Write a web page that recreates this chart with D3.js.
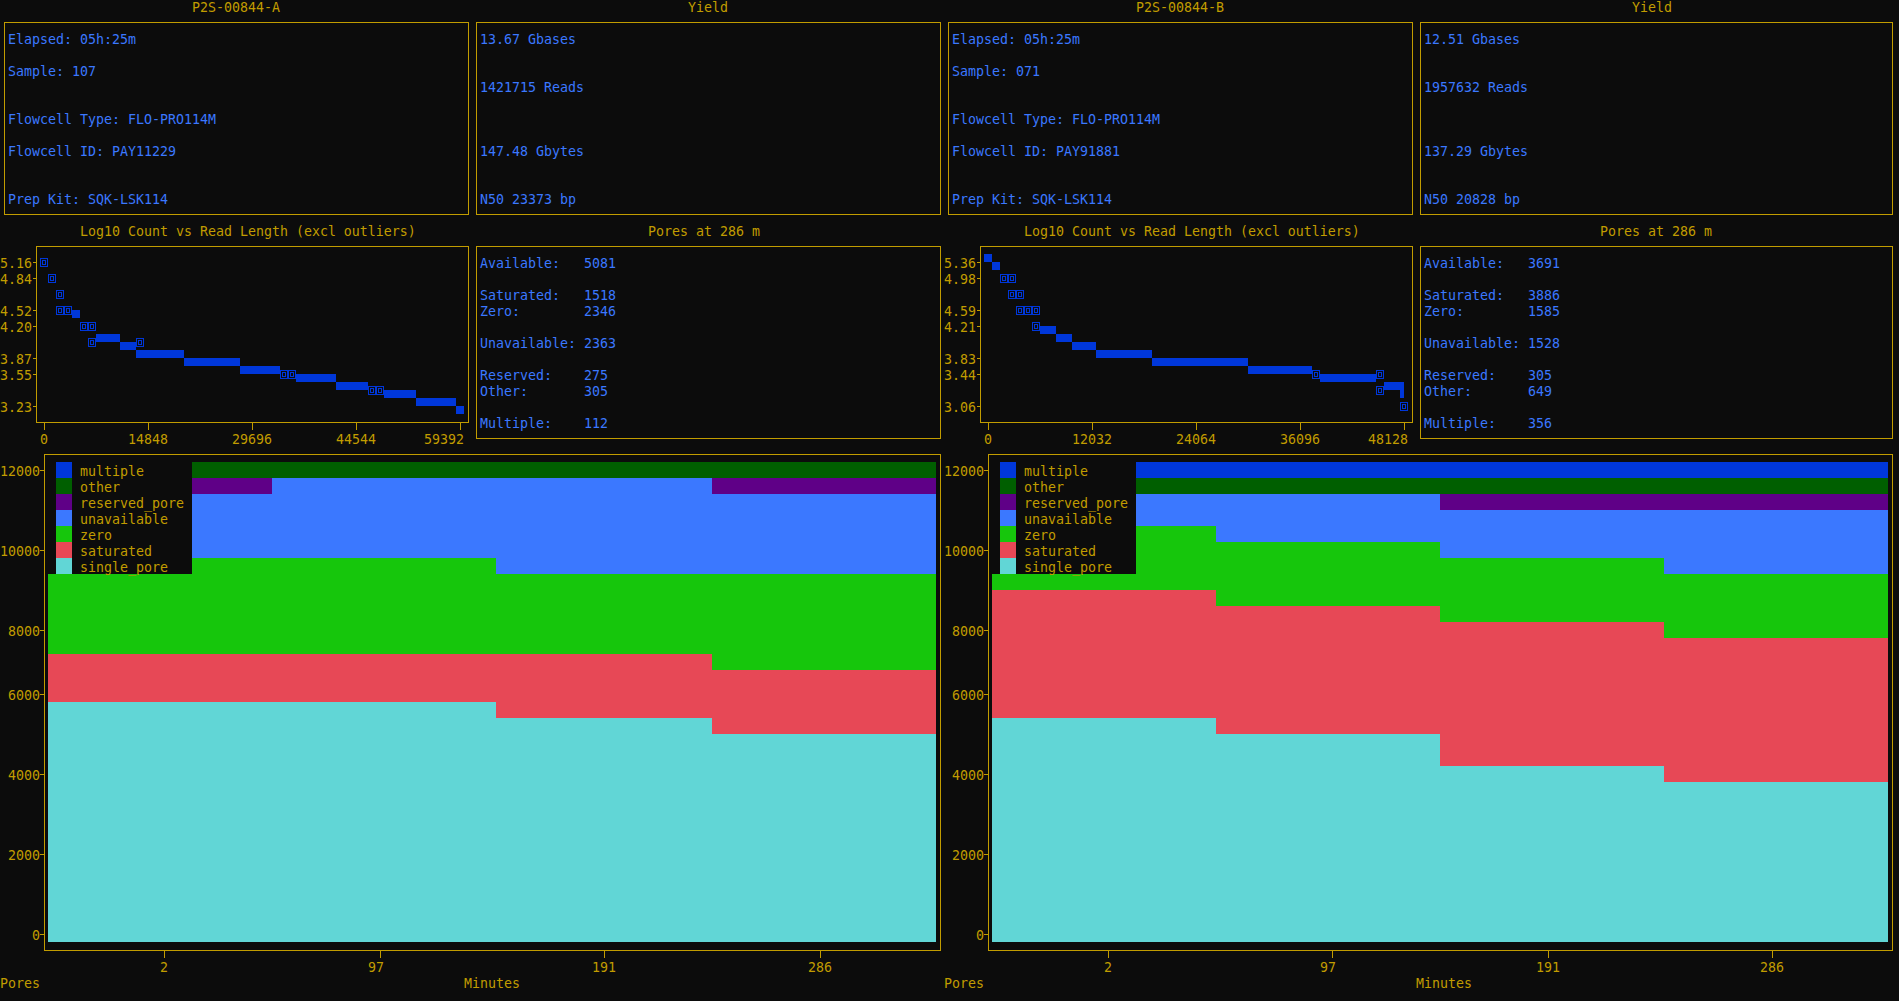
<!DOCTYPE html>
<html><head><meta charset="utf-8">
<script src="https://cdn.jsdelivr.net/npm/d3@7"></script>
<style>
html,body{margin:0;padding:0;background:#0c0c0c;overflow:hidden}
svg{display:block}
text{font-family:"DejaVu Sans Mono","Liberation Mono",monospace;font-size:13.29px;white-space:pre}
</style></head><body><svg id="c" width="1899" height="1001"></svg>
<script>
// ---------------- DATA ----------------
const runNames = ["P2S-00844-A", "P2S-00844-B"];
const infoA = ["Elapsed: 05h:25m", "Sample: 107", "Flowcell Type: FLO-PRO114M", "Flowcell ID: PAY11229", "Prep Kit: SQK-LSK114"];
const infoB = ["Elapsed: 05h:25m", "Sample: 071", "Flowcell Type: FLO-PRO114M", "Flowcell ID: PAY91881", "Prep Kit: SQK-LSK114"];
const yieldA = ["13.67 Gbases", "1421715 Reads", "147.48 Gbytes", "N50 23373 bp"];
const yieldB = ["12.51 Gbases", "1957632 Reads", "137.29 Gbytes", "N50 20828 bp"];
const poreLabels = ["Available:", "Saturated:", "Zero:", "Unavailable:", "Reserved:", "Other:", "Multiple:"];
const poresA = [5081, 1518, 2346, 2363, 275, 305, 112];
const poresB = [3691, 3886, 1585, 1528, 305, 649, 356];
const poresMinute = 286;

// histogram: [readLengthStart, readLengthEnd, log10 count]
const histABins = [[4000,5140,4.463],[7420,10850,4.141],[10850,13140,4.034],[13140,19990,3.927],[19990,27980,3.820],[27980,33690,3.713],[35980,41690,3.605],[41690,46260,3.498],[48540,53110,3.391],[53110,58820,3.284],[58820,59960,3.176]];
// points drawn with glyphs the terminal font lacks: [readLength, log10 count]
const histAGlyphs = [[0,5.16],[1140,4.946],[2280,4.731],[2280,4.517],[3430,4.517],[5710,4.302],[6850,4.302],[6850,4.088],[13710,4.088],[34260,3.659],[35410,3.659],[46830,3.444],[47970,3.444]];
const histAHalf = [];
const histAXTicks = [0, 14848, 29696, 44544, 59392];
const histAYTicks = ["5.16", "4.84", "4.52", "4.20", "3.87", "3.55", "3.23"];

const histBBins = [[0,460,5.424],[460,1390,5.296],[6020,7870,4.274],[7870,9720,4.146],[9720,12490,4.018],[12490,18970,3.891],[18970,30080,3.763],[30080,37480,3.635],[38410,44890,3.507],[45810,47660,3.379]];
const histBGlyphs = [[1850,5.104],[2780,5.104],[2780,4.849],[3700,4.849],[3700,4.593],[4630,4.593],[5550,4.593],[5550,4.338],[37950,3.571],[45350,3.571],[45350,3.316],[48128,3.06]];
const histBHalf = [[48128,3.316]];
const histBXTicks = [0, 12032, 24064, 36096, 48128];
const histBYTicks = ["5.36", "4.98", "4.59", "4.21", "3.83", "3.44", "3.06"];

// pore states over time
const minutes = [2, 97, 191, 286];
const layerKeys = ["single_pore", "saturated", "zero", "unavailable", "reserved_pore", "other", "multiple"];
const singlePoreA = [5790, 5700, 5380, 5081];
const saturatedA  = [1240, 1340, 1650, 1518];
const zeroA       = [2490, 2470, 2080, 2346];
const unavailableA= [1650, 2000, 2420, 2363];
const reservedA   = [410, 150, 180, 275];
const otherA      = [310, 240, 190, 305];
const multipleA   = [110, 100, 100, 112];
const singlePoreB = [5380, 4970, 4140, 3691];
const saturatedB  = [3300, 3300, 3720, 3886];
const zeroB       = [1660, 1660, 1660, 1585];
const unavailableB= [780, 1180, 1340, 1528];
const reservedB   = [120, 150, 300, 305];
const otherB      = [350, 330, 430, 649];
const multipleB   = [410, 410, 410, 356];
const poreYTicks = [0, 2000, 4000, 6000, 8000, 10000, 12000];

// ---------------- STYLE / LAYOUT ----------------
const GOLD = "#c19c00", INFO = "#3b78ff", BAR = "#0037da";
const layerColor = {single_pore:"#61d6d6", saturated:"#e74856", zero:"#16c60c", unavailable:"#3b78ff", reserved_pore:"#5f0087", other:"#005f00", multiple:"#0037da"};
const CW = 8, CH = 16;
const cx = c => c*CW + 4;
const cy = r => r*CH + 6;
const rowTop = r => r*CH - 2;
const rowOf = y => -Math.round(-(y - 6)/CH + 1e-6);

const svg = d3.select("#c");
svg.append("rect").attr("width",1899).attr("height",1001).attr("fill","#0c0c0c");

function txt(col, row, s, color, anchor){
  svg.append("text").attr("x", col*CW).attr("y", row*CH + 12)
    .attr("fill", color).attr("text-anchor", anchor || "start").text(s);
}
function box(c0, c1, r0, r1){
  svg.append("rect").attr("x", cx(c0)+0.5).attr("y", cy(r0)+0.5)
    .attr("width", (c1-c0)*CW).attr("height", (r1-r0)*CH)
    .attr("fill","none").attr("stroke", GOLD).attr("stroke-width",1);
}
function centerTitle(c0, c1, row, s){
  const W = c1 - c0 + 1;
  txt(c0 + Math.floor((W - s.length)/2), row, s, GOLD);
}
function tofu(c, r){
  const x = c*CW, t = rowTop(r);
  svg.append("rect").attr("x", x+0.5).attr("y", t+4.5).attr("width",7).attr("height",8)
    .attr("fill","none").attr("stroke", BAR).attr("stroke-width",1);
  svg.append("rect").attr("x", x+2.5).attr("y", t+6.5).attr("width",3).attr("height",4)
    .attr("fill","none").attr("stroke", BAR).attr("stroke-width",1);
}

function drawSide(S){
  // ---- top boxes ----
  centerTitle(S.top1[0], S.top1[1], 0, S.name);
  centerTitle(S.top2[0], S.top2[1], 0, "Yield");
  box(S.top1[0], S.top1[1], 1, 13);
  box(S.top2[0], S.top2[1], 1, 13);
  const infoRows = [2, 4, 7, 9, 12];
  S.info.forEach((s,i) => txt(S.top1[0]+1, infoRows[i], s, INFO));
  const yieldRows = [2, 5, 9, 12];
  S.yld.forEach((s,i) => txt(S.top2[0]+1, yieldRows[i], s, INFO));

  // ---- histogram ----
  const [h0, h1] = S.hist;
  centerTitle(h0, h1, 14, "Log10 Count vs Read Length (excl outliers)");
  box(h0, h1, 15, 26);
  const hx = d3.scaleLinear().domain([0, S.hxt[S.hxt.length-1]]).range([cx(h0+1), cx(h1-1)]);
  const yMax = parseFloat(S.hyt[0]), yMin = parseFloat(S.hyt[S.hyt.length-1]);
  const hy = d3.scaleLinear().domain([yMin, yMax]).range([cy(25), cy(16)]);
  const n = S.hyt.length;
  S.hyt.forEach((lab, i) => {
    const v = yMax - i*(yMax - yMin)/(n-1);
    const r = rowOf(hy(v));
    txt(h0, r, lab, GOLD, "end");
    svg.append("line").attr("x1", h0*CW+1).attr("x2", cx(h0)).attr("y1", cy(r)+0.5).attr("y2", cy(r)+0.5).attr("stroke", GOLD);
  });
  S.hxt.forEach((v) => {
    const c = Math.floor(hx(v)/CW + 1e-6);
    const lab = String(v);
    let start = c - Math.floor(lab.length/2);
    if (start + lab.length - 1 > h1 - 1) start = h1 - lab.length;
    svg.append("line").attr("x1", cx(c)+0.5).attr("x2", cx(c)+0.5).attr("y1", cy(26)).attr("y2", cy(26)+8).attr("stroke", GOLD);
    txt(start, 27, lab, GOLD);
  });
  S.hbins.forEach(([s, e, v]) => {
    const c0 = Math.floor(hx(s)/CW + 0.05), c1 = Math.ceil(hx(e)/CW - 0.05);
    const p = hy(v);
    const t = Math.floor((p + 2)/8)*8 - 2;
    svg.append("rect").attr("x", c0*CW).attr("y", t).attr("width", (c1-c0)*CW).attr("height", 8).attr("fill", BAR);
  });
  S.hglyph.forEach(([len, v]) => tofu(Math.floor(hx(len)/CW + 1e-6), rowOf(hy(v))));
  S.hhalf.forEach(([len, v]) => {
    const c = Math.floor(hx(len)/CW + 1e-6), r = rowOf(hy(v));
    svg.append("rect").attr("x", c*CW).attr("y", rowTop(r)).attr("width", 4).attr("height", CH).attr("fill", BAR);
  });

  // ---- pores panel ----
  const [p0, p1] = S.poresBox;
  centerTitle(p0, p1, 14, "Pores at " + poresMinute + " m");
  box(p0, p1, 15, 27);
  const poreRows = [16, 18, 19, 21, 23, 24, 26];
  poreLabels.forEach((lab, i) => {
    txt(p0+1, poreRows[i], lab, INFO);
    txt(p0+14, poreRows[i], String(S.pores[i]), INFO);
  });

  // ---- stacked pore-state chart ----
  const [s0, s1] = S.stack;
  box(s0, s1, 28, 59);
  const PAD = 14;
  const sx = d3.scaleLinear().domain([minutes[0], minutes[minutes.length-1]]).range([cx(s0+1+PAD), cx(s1-1-PAD)]);
  const sy = d3.scaleLinear().domain([0, 12000]).range([cy(58), cy(29)]);
  const table = minutes.map((m, i) => {
    const o = {minute: m};
    layerKeys.forEach((k, j) => o[k] = S.layers[j][i]);
    return o;
  });
  const series = d3.stack().keys(layerKeys)(table);
  const edges = [(s0+1)*CW];
  for (let i = 1; i < minutes.length; i++) edges.push(Math.round(sx((minutes[i-1]+minutes[i])/2)/CW)*CW);
  edges.push(s1*CW);
  series.forEach(ser => {
    ser.forEach((d, i) => {
      const rTop = rowOf(sy(d[1]));
      const rBot = d[0] <= 0 ? 59 : rowOf(sy(d[0]));
      if (rBot > rTop) {
        svg.append("rect").attr("x", edges[i]).attr("y", rowTop(rTop))
          .attr("width", edges[i+1]-edges[i]).attr("height", (rBot-rTop)*CH)
          .attr("fill", layerColor[ser.key]);
      }
    });
  });
  poreYTicks.forEach(v => {
    const r = rowOf(sy(v));
    txt(s0, r, String(v), GOLD, "end");
    svg.append("line").attr("x1", s0*CW).attr("x2", cx(s0)).attr("y1", cy(r)+0.5).attr("y2", cy(r)+0.5).attr("stroke", GOLD);
  });
  minutes.forEach(m => {
    const c = Math.floor(sx(m)/CW + 1e-6);
    const lab = String(m);
    svg.append("line").attr("x1", cx(c)+0.5).attr("x2", cx(c)+0.5).attr("y1", cy(59)).attr("y2", cy(59)+8).attr("stroke", GOLD);
    txt(c - Math.floor(lab.length/2), 60, lab, GOLD);
  });
  txt(S.half, 61, "Pores", GOLD);
  const W = s1 - s0 + 1;
  txt(s0 + Math.round((W - 7)/2), 61, "Minutes", GOLD);

  // legend
  const legend = layerKeys.slice().reverse();
  svg.append("rect").attr("x", (s0+1)*CW).attr("y", rowTop(29)).attr("width", 18*CW).attr("height", legend.length*CH).attr("fill", "#0c0c0c");
  legend.forEach((k, i) => {
    svg.append("rect").attr("x", (s0+2)*CW).attr("y", rowTop(29+i)).attr("width", 2*CW).attr("height", CH).attr("fill", layerColor[k]);
    txt(s0+5, 29+i, k, GOLD);
  });
}

drawSide({
  name: runNames[0], info: infoA, yld: yieldA, half: 0,
  top1: [0, 58], top2: [59, 117], hist: [4, 58], poresBox: [59, 117], stack: [5, 117],
  hxt: histAXTicks, hyt: histAYTicks, hbins: histABins, hglyph: histAGlyphs, hhalf: histAHalf,
  pores: poresA,
  layers: [singlePoreA, saturatedA, zeroA, unavailableA, reservedA, otherA, multipleA]
});
drawSide({
  name: runNames[1], info: infoB, yld: yieldB, half: 118,
  top1: [118, 176], top2: [177, 236], hist: [122, 176], poresBox: [177, 236], stack: [123, 236],
  hxt: histBXTicks, hyt: histBYTicks, hbins: histBBins, hglyph: histBGlyphs, hhalf: histBHalf,
  pores: poresB,
  layers: [singlePoreB, saturatedB, zeroB, unavailableB, reservedB, otherB, multipleB]
});
</script></body></html>
